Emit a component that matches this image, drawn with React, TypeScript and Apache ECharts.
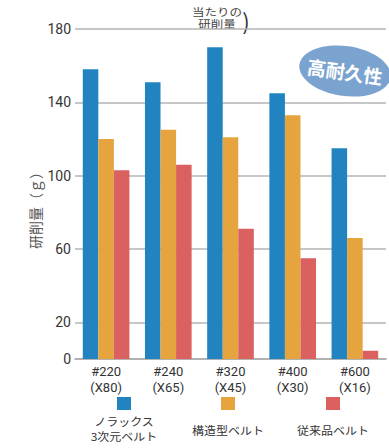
import React, { useEffect, useRef } from "react";
import * as echarts from "echarts";

const categories = ["#220\n(X80)", "#240\n(X65)", "#320\n(X45)", "#400\n(X30)", "#600\n(X16)"];
const seriesNames = ["ノラックス\n3次元ベルト", "構造型ベルト", "従来品ベルト"];
const noraxValues = [158, 151, 170, 145, 115];
const structValues = [120, 125, 121, 133, 66];
const conventionalValues = [103, 106, 71, 55, 4.5];
const yTickLabels = [0, 20, 60, 100, 140, 180];
const colors = ["#2184C1", "#E6A43F", "#DA6160"];

const FONT = "'Noto Sans CJK JP', 'Noto Sans', sans-serif";
const NUMFONT = "Roboto, 'Liberation Sans', sans-serif";

export default function App() {
  const ref = useRef<HTMLDivElement>(null);
  useEffect(() => {
    if (!ref.current) return;
    const chart = echarts.init(ref.current, undefined, { renderer: "svg" });
    const values = [noraxValues, structValues, conventionalValues];
    const legendX = [124, 228, 333];
    const legendGraphics: any[] = [];
    seriesNames.forEach((name, i) => {
      legendGraphics.push({
        type: "rect",
        shape: { x: legendX[i] - 7, y: 397, width: 14, height: 13 },
        style: { fill: colors[i] },
      });
      const lines = name.split("\n");
      const startY = lines.length > 1 ? 421 : 430;
      lines.forEach((line, j) => {
        legendGraphics.push({
          type: "text",
          x: legendX[i],
          y: startY + j * 15,
          scaleY: 0.9,
          style: {
            text: line,
            fill: "#333",
            font: `12px ${FONT}`,
            align: "center",
            verticalAlign: "middle",
          },
        });
      });
    });
    chart.setOption({
      animation: false,
      grid: { left: 75, right: 3, top: 29, bottom: 89, containLabel: false },
      xAxis: {
        type: "category",
        data: categories,
        axisLine: { lineStyle: { color: "#999", width: 1.5 } },
        axisTick: { show: false },
        axisLabel: {
          color: "#333",
          fontSize: 13,
          lineHeight: 15.5,
          margin: 5,
          fontFamily: NUMFONT,
        },
      },
      yAxis: {
        type: "value",
        min: 0,
        max: 180,
        interval: 20,
        axisLine: { show: false },
        axisTick: { show: false },
        axisLabel: {
          color: "#333",
          fontSize: 14,
          margin: 4,
          fontFamily: NUMFONT,
          formatter: (v: number) => (yTickLabels.includes(v) ? String(v) : ""),
        },
        splitLine: {
          show: true,
          lineStyle: { color: ["transparent", "#b5b5b5"], width: 1.5 },
        },
      },
      series: seriesNames.map((name, i) => ({
        name,
        type: "bar",
        data: values[i],
        barGap: "0%",
        barCategoryGap: "25%",
        itemStyle: { color: colors[i] },
      })),
      graphic: [
        {
          type: "text",
          x: 35,
          y: 207,
          rotation: Math.PI / 2,
          style: {
            text: "研削量（ｇ）",
            fill: "#555",
            font: `14px ${FONT}`,
            align: "center",
            verticalAlign: "middle",
          },
        },
        {
          type: "text",
          x: 217,
          y: 12,
          scaleY: 0.8,
          style: {
            text: "当たりの",
            fill: "#444",
            font: `12.5px ${FONT}`,
            align: "center",
            verticalAlign: "middle",
          },
        },
        {
          type: "text",
          x: 217,
          y: 23.5,
          scaleY: 0.8,
          style: {
            text: "研削量",
            fill: "#444",
            font: `12.5px ${FONT}`,
            align: "center",
            verticalAlign: "middle",
          },
        },
        {
          type: "text",
          x: 246,
          y: 20,
          style: {
            text: ")",
            fill: "#333",
            font: `22px ${FONT}`,
            align: "center",
            verticalAlign: "middle",
          },
        },
        {
          type: "group",
          x: 345,
          y: 71,
          rotation: -0.14,
          children: [
            {
              type: "ellipse",
              shape: { cx: 0, cy: 0, rx: 46, ry: 25 },
              style: { fill: "#7BA3D0" },
            },
            {
              type: "text",
              x: 0,
              y: 0,
              style: {
                text: "高耐久性",
                fill: "#fff",
                font: `bold 19px ${FONT}`,
                align: "center",
                verticalAlign: "middle",
              },
            },
          ],
        },
        ...legendGraphics,
      ],
    });
    return () => chart.dispose();
  }, []);
  return (
    <div
      ref={ref}
      style={{ position: "absolute", left: 0, top: 0, width: 389, height: 448 }}
    />
  );
}
